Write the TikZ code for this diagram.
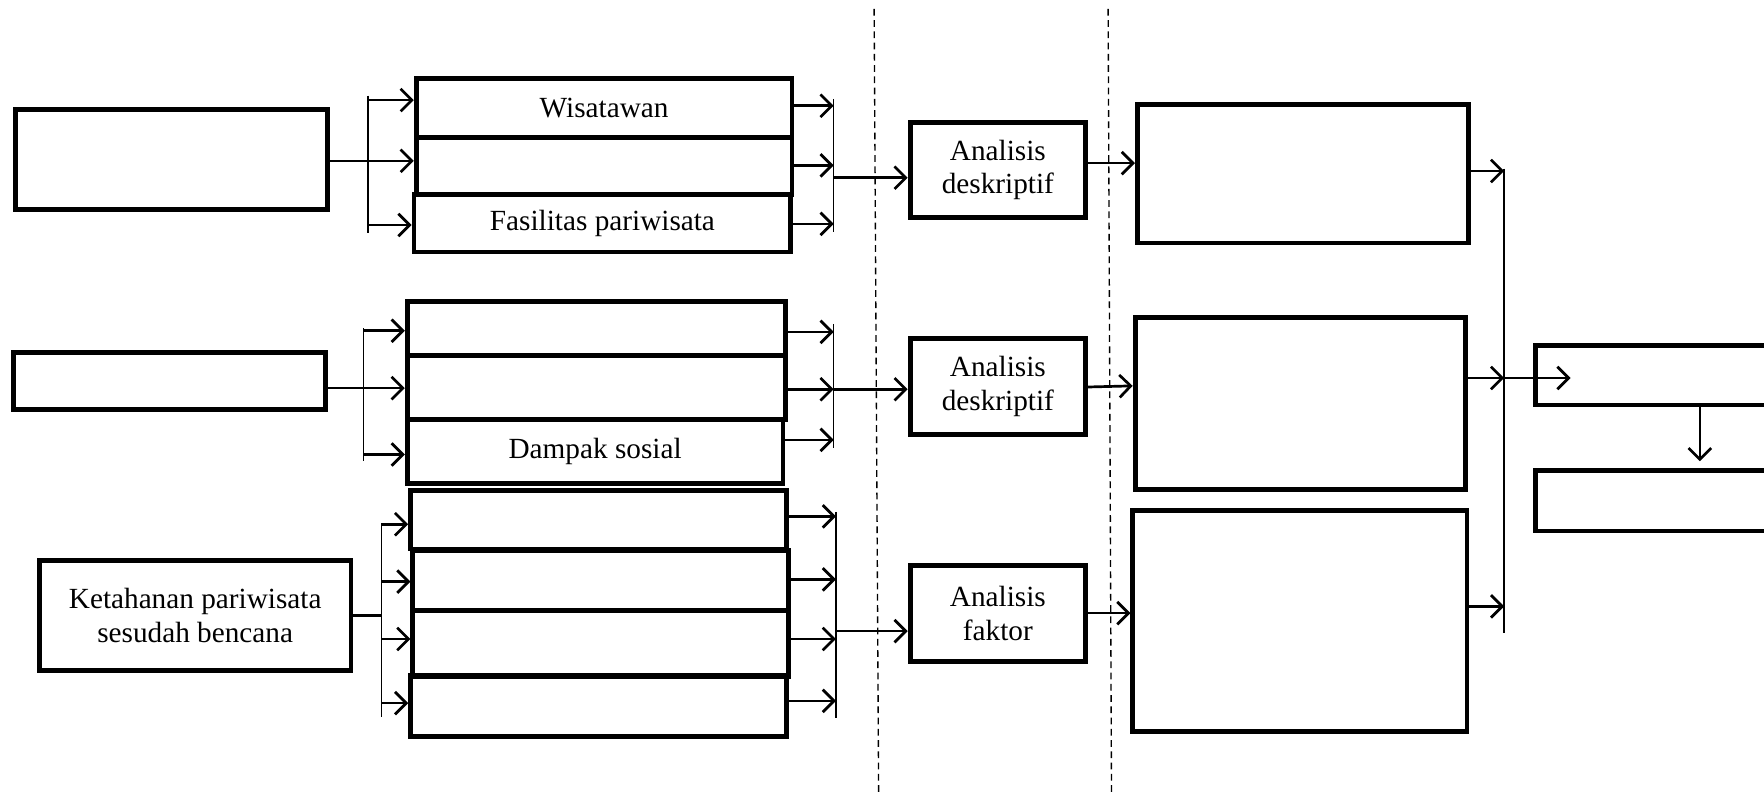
\documentclass[tikz,border=0pt]{standalone}
\usepackage{fontspec}
\setmainfont{Liberation Serif}
\usetikzlibrary{arrows.meta}
\tikzset{
  box/.style={draw, line width=2.2pt, inner sep=0pt, align=center, font=\fontsize{13}{15}\selectfont},
  arr/.style={line width=1.2pt, -{Straight Barb[length=5pt,width=10pt,line width=1.2pt]}},
  thinline/.style={line width=0.6pt},
  plain/.style={line width=1pt},
  guide/.style={line width=0.6pt, dash pattern=on 3pt off 2pt},
}
\newcommand{\mybox}[6]{\node[box, minimum width={(#4-#2)*0.5pt}, minimum height={(#5-#3)*0.5pt}] (#1) at ({(#2+#4)/2},{(#3+#5)/2}) {#6};}
\begin{document}
\begin{tikzpicture}[x=0.5pt, y=-0.5pt]
\useasboundingbox (0,0) rectangle (1568,705);
\clip (0,0) rectangle (1568,705);
\fill[white] (0,0) rectangle (1568,705);

% dashed guide lines
\coordinate (g1t) at (777,8);  \coordinate (g1b) at (781,705);
\coordinate (g2t) at (985,8);  \coordinate (g2b) at (988,705);
\draw[guide] (g1t) -- (g1b);
\draw[guide] (g2t) -- (g2b);

% group 1
\mybox{A}{14}{97}{291}{186}{}
\mybox{W1}{370}{70}{704}{122}{Wisatawan}
\mybox{W2}{370}{122}{704}{173}{}
\mybox{W3}{368}{173}{703}{224}{Fasilitas pariwisata}
\mybox{AD1}{809}{109}{965}{193}{Analisis\\deskriptif}
\mybox{R1}{1011}{93}{1305}{216}{}

% group 2
\mybox{B}{12}{313}{289}{364}{}
\mybox{B1}{362}{268}{698}{316}{}
\mybox{B2}{362}{316}{698}{373}{}
\mybox{B3}{362}{373}{696}{430}{Dampak sosial}
\mybox{AD2}{809}{301}{965}{386}{Analisis\\deskriptif}
\mybox{R2}{1009}{282}{1303}{435}{}

% group 3
\mybox{K}{35}{498}{312}{596}{Ketahanan pariwisata\\sesudah bencana}
\mybox{C1}{365}{436}{699}{488}{}
\mybox{C2}{367}{489}{701}{543}{}
\mybox{C3}{367}{543}{701}{601}{}
\mybox{C4}{365}{600}{699}{655}{}
\mybox{AD3}{809}{503}{965}{588}{Analisis\\faktor}
\mybox{R3}{1007}{454}{1304}{650}{}

% final boxes
\mybox{F1}{1365}{307}{1600}{360}{}
\mybox{F2}{1365}{418}{1600}{472}{}

% bracket coordinates
\coordinate (L1t) at (327,85);  \coordinate (L1b) at (327,207);
\coordinate (M1t) at (741,88);  \coordinate (M1b) at (741,206);
\coordinate (L2t) at (323,292); \coordinate (L2b) at (323,410);
\coordinate (M2t) at (741,288); \coordinate (M2b) at (741,398);
\coordinate (L3t) at (339,465); \coordinate (L3b) at (339,637);
\coordinate (M3t) at (743,455); \coordinate (M3b) at (743,638);
\coordinate (Vt) at (1337,150); \coordinate (Vb) at (1337,563);

\draw[thinline] (L1t) -- (L1b);
\draw[thinline] (M1t) -- (M1b);
\draw[thinline] (L2t) -- (L2b);
\draw[thinline] (M2t) -- (M2b);
\draw[thinline] (L3t) -- (L3b);
\draw[thinline] (M3t) -- (M3b);
\draw[thinline] (Vt) -- (Vb);

% group 1 arrows
\draw[arr] (L1t |- 0,89) -- (W1.west |- 0,89);
\draw[arr] (A.east |- 0,143) -- (W2.west |- 0,143);
\draw[arr] (L1t |- 0,200) -- (W3.west |- 0,200);
\draw[arr] (W1.east |- 0,94) -- (M1t |- 0,94);
\draw[arr] (W2.east |- 0,147) -- (M1t |- 0,147);
\draw[arr] (W3.east |- 0,199) -- (M1t |- 0,199);
\draw[arr] (M1t |- 0,158) -- (AD1.west |- 0,158);
\draw[arr] (AD1.east |- 0,145) -- (R1.west |- 0,145);
\draw[arr] (R1.east |- 0,152) -- (Vt |- 0,152);

% group 2 arrows
\draw[arr] (L2t |- 0,294) -- (B1.west |- 0,294);
\draw[arr] (B.east |- 0,345) -- (B2.west |- 0,345);
\draw[arr] (L2t |- 0,404) -- (B3.west |- 0,404);
\draw[arr] (B1.east |- 0,295) -- (M2t |- 0,295);
\draw[arr] (B2.east |- 0,346) -- (M2t |- 0,346);
\draw[arr] (B3.east |- 0,391) -- (M2t |- 0,391);
\draw[arr] (M2t |- 0,346) -- (AD2.west |- 0,346);
\draw[arr] (AD2.east |- 0,344) -- (R2.west |- 0,343);
\draw[arr] (R2.east |- 0,336) -- (Vt |- 0,336);
\draw[arr] (Vt |- 0,336) -- (1396,336);

% group 3 arrows
\draw[plain] (K.east) -- (L3t |- K.east);
\draw[arr] (L3t |- 0,466) -- (C1.west |- 0,466);
\draw[arr] (L3t |- 0,517) -- (C2.west |- 0,517);
\draw[arr] (L3t |- 0,568) -- (C3.west |- 0,568);
\draw[arr] (L3t |- 0,625) -- (C4.west |- 0,625);
\draw[arr] (C1.east |- 0,459) -- (M3t |- 0,459);
\draw[arr] (C2.east |- 0,515) -- (M3t |- 0,515);
\draw[arr] (C3.east |- 0,568) -- (M3t |- 0,568);
\draw[arr] (C4.east |- 0,623) -- (M3t |- 0,623);
\draw[arr] (M3t |- 0,561) -- (AD3.west |- 0,561);
\draw[arr] (AD3.east |- 0,545) -- (R3.west |- 0,545);
\draw[arr] (R3.east |- 0,539) -- (Vt |- 0,539);

% down arrow
\draw[arr] (F1.south -| 1511,0) -- (1511,410);
\end{tikzpicture}
\end{document}
